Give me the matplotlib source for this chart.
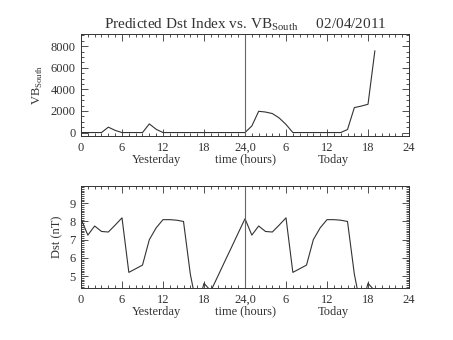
import matplotlib.pyplot as plt
from matplotlib.ticker import MultipleLocator
import numpy as np

# hours since start of yesterday (0-48)
vb_hours = np.arange(0, 44)
vb_south = [0, 0, 0, 0, 500, 200, 0, 0, 0, 0, 800, 300, 0,
            0, 0, 0, 0, 0, 0, 0, 0, 0, 0, 0,
            0, 610, 1970, 1900, 1760, 1350, 750, 0,
            0, 0, 0, 0, 0, 0, 0, 280, 2310, 2450, 2620, 7560]

dst_hours = np.arange(0, 44)
dst = [8.15, 7.25, 7.75, 7.45, 7.42, 7.8, 8.2, 5.2, 5.4, 5.6, 7.0, 7.65,
       8.1, 8.1, 8.07, 8.0, 5.1, 3.2, 4.6, 4.18, 4.97, 5.77, 6.56, 7.36,
       8.15, 7.25, 7.75, 7.45, 7.42, 7.8, 8.2, 5.2, 5.4, 5.6, 7.0, 7.65,
       8.1, 8.1, 8.07, 8.0, 5.1, 3.2, 4.6, 4.18]

xticks = [0, 6, 12, 18, 24, 30, 36, 42, 48]
xticklabels = ["0", "6", "12", "18", "24,0", "6", "12", "18", "24"]

plt.rcParams['font.family'] = ['Liberation Serif', 'DejaVu Serif']
plt.rcParams['font.size'] = 9
plt.rcParams['mathtext.fontset'] = 'custom'
plt.rcParams['mathtext.rm'] = 'Liberation Serif'
ink = '#333333'

fig = plt.figure(figsize=(4.53, 3.40), dpi=100)
ax1 = fig.add_axes([0.1788, 0.6, 0.7241, 0.3])
ax2 = fig.add_axes([0.1788, 0.1529, 0.7241, 0.3])


def style(ax):
    ax.set_xlim(0, 48)
    ax.set_xticks(xticks)
    ax.set_xticklabels(xticklabels)
    ax.xaxis.set_minor_locator(MultipleLocator(1))
    ax.tick_params(which='both', direction='in', top=True, right=True,
                   colors=ink, labelcolor=ink, width=0.6)
    ax.tick_params(which='major', length=5, pad=4)
    ax.tick_params(which='minor', length=2.5)
    for s in ax.spines.values():
        s.set_color(ink)
        s.set_linewidth(0.7)
    ax.axvline(24, color='#666666', lw=0.8)
    ax.text(0.23, -0.26, "Yesterday", transform=ax.transAxes, ha='center',
            color=ink)
    ax.text(0.5, -0.26, "time (hours)", transform=ax.transAxes, ha='center',
            color=ink)
    ax.text(0.77, -0.26, "Today", transform=ax.transAxes, ha='center',
            color=ink)


ax1.plot(vb_hours, vb_south, color=ink, lw=0.8)
ax1.set_ylim(-320, 9130)
ax1.set_yticks([0, 2000, 4000, 6000, 8000])
ax1.yaxis.set_minor_locator(MultipleLocator(500))
ax1.set_ylabel(r"VB$_{\mathrm{South}}$", color=ink)
style(ax1)
ax1.set_title(r"Predicted Dst Index vs. VB$_{\mathrm{South}}$     02/04/2011",
              fontsize=11, color=ink, pad=4)

ax2.plot(dst_hours, dst, color=ink, lw=0.8)
ax2.set_ylim(4.34, 9.95)
ax2.set_yticks([5, 6, 7, 8, 9])
ax2.yaxis.set_minor_locator(MultipleLocator(0.1))
ax2.set_ylabel("Dst (nT)", color=ink)
style(ax2)

fig.savefig("out.png", dpi=100)
